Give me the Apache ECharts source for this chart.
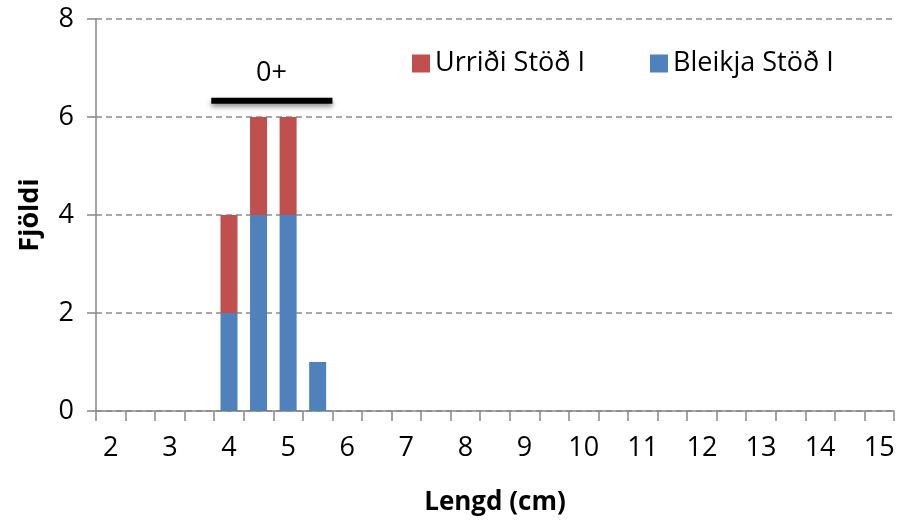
<!DOCTYPE html>
<html>
<head>
<meta charset="utf-8">
<script src="https://cdn.jsdelivr.net/npm/echarts@6/dist/echarts.min.js"></script>
<style>html,body{margin:0;padding:0;background:#fff}#c{width:900px;height:521px}</style>
</head>
<body>
<div id="c"></div>
<script>
// Length categories (cm), every 0.5
var categories = ['2','2.5','3','3.5','4','4.5','5','5.5','6','6.5','7','7.5','8','8.5','9','9.5','10','10.5','11','11.5','12','12.5','13','13.5','14','14.5','15'];
// Counts
var bleikja = [0,0,0,0,2,4,4,1,0,0,0,0,0,0,0,0,0,0,0,0,0,0,0,0,0,0,0];
var urridi  = [0,0,0,0,2,2,2,0,0,0,0,0,0,0,0,0,0,0,0,0,0,0,0,0,0,0,0];
var seriesNames = ['Urriði Stöð I', 'Bleikja Stöð I'];
// Age-group annotation "0+" (length range in cm, height in count units)
var groupLine = [[3.7, 6.33], [5.75, 6.33]];
var groupLabel = [[4.72, 6.9]];
var groupText = '0+';

var FONT = 'Open Sans';
var chart = echarts.init(document.getElementById('c'), null, {renderer: 'canvas'});
chart.setOption({
  animation: false,
  backgroundColor: '#fff',
  textStyle: {fontFamily: FONT},
  grid: {left: 96, right: 6, top: 19, bottom: 109, containLabel: false},
  legend: {
    data: seriesNames,
    left: 407, top: 45,
    itemWidth: 18, itemHeight: 18, itemGap: 65,
    icon: 'rect',
    textStyle: {fontFamily: FONT, fontSize: 27, color: '#000', padding: [0,0,0,0]}
  },
  xAxis: [{
    type: 'category',
    data: categories,
    name: 'Lengd (cm)',
    nameLocation: 'middle',
    nameGap: 79,
    nameTextStyle: {fontFamily: FONT, fontSize: 26, fontWeight: 'bold', color: '#000'},
    axisLine: {lineStyle: {color: '#868686', width: 1.5}},
    axisTick: {show: true, interval: 0, length: 10, lineStyle: {color: '#868686', width: 1.5}},
    axisLabel: {interval: 1, margin: 24, fontFamily: FONT, fontSize: 27, color: '#000'},
    splitLine: {show: false}
  }, {
    type: 'value',
    min: 1.75, max: 15.25,
    show: false
  }],
  yAxis: {
    type: 'value',
    min: 0, max: 8, interval: 2,
    name: 'Fjöldi',
    nameLocation: 'middle',
    nameGap: 52,
    nameRotate: 90,
    nameTextStyle: {fontFamily: FONT, fontSize: 27, fontWeight: 'bold', color: '#000'},
    axisLine: {show: true, lineStyle: {color: '#868686', width: 1.5}},
    axisTick: {show: true, length: 9, lineStyle: {color: '#868686', width: 1.5}},
    axisLabel: {margin: 22, fontFamily: FONT, fontSize: 27, color: '#000'},
    splitLine: {show: true, lineStyle: {color: '#8c8c8c', width: 1.5, type: [6, 4]}}
  },
  series: [{
    name: seriesNames[1],
    type: 'bar',
    stack: 'total',
    data: bleikja,
    barWidth: 17,
    itemStyle: {color: '#4F81BD'}
  }, {
    name: seriesNames[0],
    type: 'bar',
    stack: 'total',
    data: urridi,
    barWidth: 17,
    itemStyle: {color: '#C0504D'}
  }, {
    type: 'line',
    xAxisIndex: 1,
    data: groupLine,
    symbol: 'none',
    silent: true,
    lineStyle: {color: '#000', width: 6, shadowColor: 'rgba(0,0,0,0.45)', shadowBlur: 5, shadowOffsetY: 3, cap: 'butt'}
  }, {
    type: 'scatter',
    xAxisIndex: 1,
    data: groupLabel,
    symbolSize: 0,
    silent: true,
    itemStyle: {opacity: 1},
    label: {show: true, position: 'inside', formatter: groupText, fontFamily: FONT, fontSize: 27, color: '#000', opacity: 1}
  }]
});
</script>
</body>
</html>
